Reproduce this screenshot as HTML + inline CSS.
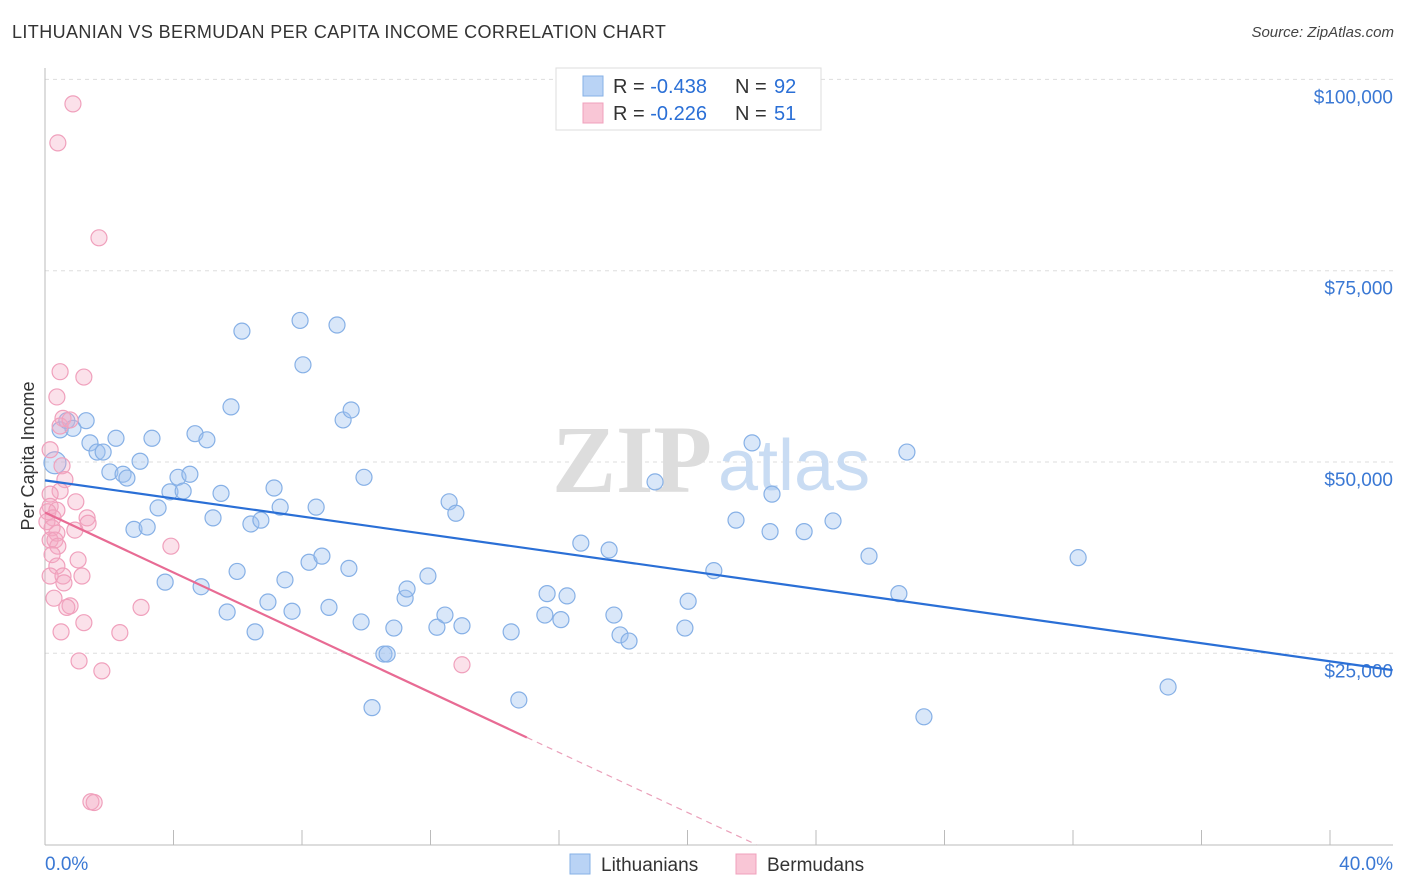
<!DOCTYPE html>
<html><head><meta charset="utf-8">
<style>
body{margin:0;background:#fff;font-family:"Liberation Sans",sans-serif;}
#wrap{position:relative;width:1406px;height:892px;overflow:hidden;}
.title{position:absolute;left:12px;top:22px;font-size:18px;color:#333;letter-spacing:0.4px;}
.src{position:absolute;right:12px;top:24px;font-size:15px;color:#444;font-style:italic;}
</style></head><body>
<div id="wrap">
<div class="title">LITHUANIAN VS BERMUDAN PER CAPITA INCOME CORRELATION CHART</div>
<div class="src">Source: ZipAtlas.com</div>
<svg id="chart" width="1406" height="892" style="position:absolute;left:0;top:0"></svg>
</div>
<script>
const xTicks=[0,4,8,12,16,20,24,28,32,36,40];
const yTicks=[25000,50000,75000,100000];
const yTickLabels=["$25,000","$50,000","$75,000","$100,000"];
const blueX=[0.31,0.47,0.68,0.87,1.28,1.40,1.62,1.81,2.02,2.21,2.43,2.55,2.77,2.96,3.18,3.33,3.52,3.74,3.89,4.14,4.30,4.51,4.67,4.86,5.04,5.23,5.48,5.67,5.79,5.98,6.13,6.41,6.54,6.72,6.94,7.13,7.32,7.47,7.69,7.94,8.03,8.22,8.44,8.62,8.84,9.09,9.28,9.46,9.53,9.84,9.93,10.18,10.55,10.65,10.86,11.21,11.27,11.92,12.20,12.45,12.58,12.79,12.98,14.51,14.75,15.56,15.63,16.06,16.25,16.68,17.56,17.71,17.90,18.18,18.99,19.92,20.02,20.82,21.51,22.01,22.57,22.63,23.63,24.53,25.65,26.58,26.83,27.36,32.16,34.96];
const blueY=[49.9,54.2,55.4,54.4,55.4,52.5,51.3,51.3,48.7,53.1,48.4,47.9,41.2,50.1,41.5,53.1,44.0,34.3,46.1,48.0,46.2,48.4,53.7,33.7,52.9,42.7,45.9,30.4,57.2,35.7,67.1,41.9,27.8,42.4,31.7,46.6,44.1,34.6,30.5,68.5,62.7,36.9,44.1,37.7,31.0,67.9,55.5,36.1,56.8,29.1,48.0,17.9,24.9,24.9,28.3,32.2,33.4,35.1,28.4,30.0,44.8,43.3,28.6,27.8,18.9,30.0,32.8,29.4,32.5,39.4,38.5,30.0,27.4,26.6,47.4,28.3,31.8,35.8,42.4,52.5,40.9,45.8,40.9,42.3,37.7,32.8,51.3,16.7,37.5,20.6];
const pinkX=[0.87,0.40,1.68,0.47,1.21,0.37,0.56,0.47,0.78,0.16,0.53,0.62,0.47,0.16,0.96,0.16,0.37,0.09,0.25,1.31,1.34,0.06,0.22,0.93,0.37,0.16,0.31,0.40,3.92,1.03,0.22,0.37,0.16,0.56,1.15,0.59,0.28,0.78,0.68,2.99,1.21,0.50,2.33,1.06,1.77,12.98,1.43,1.53];
const pinkY=[96.8,91.7,79.3,61.8,61.1,58.5,55.7,54.7,55.5,51.6,49.5,47.7,46.2,45.8,44.8,44.2,43.7,43.5,42.7,42.7,42.0,42.2,41.4,41.1,40.7,39.8,39.8,39.0,39.0,37.2,37.9,36.4,35.1,35.1,35.1,34.2,32.2,31.2,31.0,31.0,29.0,27.8,27.7,24.0,22.7,23.5,5.6,5.5];
const blueTrend=[47.6,22.8]; // at x=0 and x=41.95
const pinkTrend=[43.4,14.0]; // at x=0 and x=15

const X=v=>45+v*32.125;
const Y=k=>844.6-k*7.652;
const svg=document.getElementById('chart');
const NS='http://www.w3.org/2000/svg';
function mk(t,a,p){const e=document.createElementNS(NS,t);for(const k in a)e.setAttribute(k,a[k]);(p||svg).appendChild(e);return e;}

yTicks.forEach((v,i)=>{
 const g=mk('line',{x1:45,x2:1393,y1:Y(v/1000),y2:Y(v/1000),stroke:'#ddd','stroke-dasharray':'4,4'});
 
 
 const t=mk('text',{x:1393,y:Y(v/1000)+24,'text-anchor':'end','font-size':19,fill:'#3a78d4'});
 t.textContent=yTickLabels[i];
 
 
});
const ax=mk('line',{x1:45,x2:45,y1:68,y2:845,stroke:'#bbb'});


const bx=mk('line',{x1:45,x2:1393,y1:845,y2:845,stroke:'#bbb'});


xTicks.forEach(v=>{
 const l=mk('line',{x1:X(v),x2:X(v),y1:830,y2:845,stroke:'#bbb'});
 
 
});
[['0.0%',45,'start'],['40.0%',1393,'end']].forEach(a=>{
 const t=mk('text',{x:a[1],y:870,'text-anchor':a[2],'font-size':19,fill:'#3a78d4'});
 t.textContent=a[0];
 
 
});
const yt=mk('text',{x:34,y:456,'text-anchor':'middle','font-size':18,fill:'#333',transform:'rotate(-90 34 456)'});
yt.textContent='Per Capita Income';


const w1=mk('text',{x:552,y:492,'font-size':96,fill:'#ddd','font-family':'Liberation Serif,serif','font-weight':'bold'});
w1.textContent='ZIP';


const w2=mk('text',{x:718,y:490,'font-size':72,fill:'#c9dcf3'});
w2.textContent='atlas';



blueX.forEach((x,i)=>{
 const c=mk('circle',{cx:X(x),cy:Y(blueY[i]),r:i==0?11:8,fill:'rgba(160,196,240,0.4)',stroke:'#86b0e6','stroke-width':1.2});
 
 
});
pinkX.forEach((x,i)=>{
 const c=mk('circle',{cx:X(x),cy:Y(pinkY[i]),r:8,fill:'rgba(244,170,195,0.35)',stroke:'#f0a0bc','stroke-width':1.2});
 
 
});
const bl=mk('line',{x1:X(0),y1:Y(blueTrend[0]),x2:X(41.95),y2:Y(blueTrend[1]),stroke:'#2a6fd6','stroke-width':2.2});


const pl=mk('line',{x1:X(0),y1:Y(pinkTrend[0]),x2:X(15),y2:Y(pinkTrend[1]),stroke:'#e86b94','stroke-width':2.2});


const slope=(pinkTrend[1]-pinkTrend[0])/15;
const xz=-pinkTrend[0]/slope;
const pd=mk('line',{x1:X(15),y1:Y(pinkTrend[1]),x2:X(xz),y2:Y(0),stroke:'#eaa0ba','stroke-width':1.2,'stroke-dasharray':'6,5'});



const lg=mk('g',{});


mk('rect',{x:556,y:68,width:265,height:62,fill:'#fff',stroke:'#ddd'},lg);
[[86,'#b9d3f5','#86b0e6','-0.438','92'],[113,'#f9c6d6','#f0a0bc','-0.226','51']].forEach(r=>{
 mk('rect',{x:583,y:r[0]-10,width:20,height:20,fill:r[1],stroke:r[2]},lg);
 const t=mk('text',{x:613,y:r[0]+7,'font-size':20,fill:'#333'},lg);
 t.innerHTML='R = <tspan fill="#2a6fd6"> '+r[3]+'</tspan><tspan x="735">N = </tspan><tspan fill="#2a6fd6" x="774">'+r[4]+'</tspan>';
 
 
});
[[570,'#b9d3f5','#86b0e6','Lithuanians'],[736,'#f9c6d6','#f0a0bc','Bermudans']].forEach(r=>{
 const g=mk('g',{});
 
 
 mk('rect',{x:r[0],y:854,width:20,height:20,fill:r[1],stroke:r[2]},g);
 const t=mk('text',{x:r[0]+31,y:871,'font-size':19,fill:'#333'},g);
 t.textContent=r[3];
});
</script>
</body></html>
